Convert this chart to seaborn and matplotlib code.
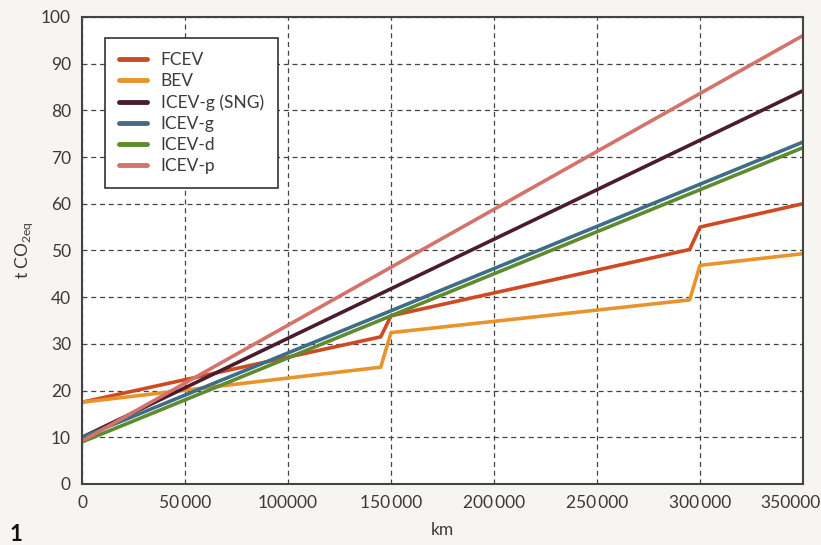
import pandas as pd
import numpy as np
import matplotlib.pyplot as plt
import seaborn as sns
from matplotlib.lines import Line2D
from matplotlib.transforms import offset_copy

# distance (km) and cumulative emissions (t CO2eq)
fcev_km = [0, 145000, 150000, 295000, 300000, 350000]
fcev_t = [17.5, 31.5, 36.0, 50.2, 55.0, 60.0]
bev_km = [0, 145000, 150000, 295000, 300000, 350000]
bev_t = [17.5, 25.0, 32.4, 39.4, 46.8, 49.3]
line_km = [0, 350000]
icev_g_sng_t = [10.0, 84.2]
icev_g_t = [10.0, 73.2]
icev_d_t = [9.0, 72.0]
icev_p_t = [9.2, 96.0]

names = ["FCEV", "BEV", "ICEV-g (SNG)", "ICEV-g", "ICEV-d", "ICEV-p"]
colors = ["#cf4a22", "#e8942c", "#4b1c2e", "#3f6d86", "#5e8a30", "#d4736a"]

x_ticks = [0, 50000, 100000, 150000, 200000, 250000, 300000, 350000]
x_tick_labels = ["0", "50\u2009000", "100000", "150\u2009000", "200\u2009000",
                 "250\u2009000", "300\u2009000", "350000"]
y_ticks = [0, 10, 20, 30, 40, 50, 60, 70, 80, 90, 100]

frames = [
    pd.DataFrame({"km": fcev_km, "t": fcev_t, "vehicle": "FCEV"}),
    pd.DataFrame({"km": bev_km, "t": bev_t, "vehicle": "BEV"}),
    pd.DataFrame({"km": line_km, "t": icev_g_sng_t, "vehicle": "ICEV-g (SNG)"}),
    pd.DataFrame({"km": line_km, "t": icev_g_t, "vehicle": "ICEV-g"}),
    pd.DataFrame({"km": line_km, "t": icev_d_t, "vehicle": "ICEV-d"}),
    pd.DataFrame({"km": line_km, "t": icev_p_t, "vehicle": "ICEV-p"}),
]
df = pd.concat(frames, ignore_index=True)

sns.set_style("white")
plt.rcParams["font.family"] = ["Lato", "DejaVu Sans"]

fig = plt.figure(figsize=(8.21, 5.45), dpi=100, facecolor="#f6f5f1")
ax = fig.add_axes([0.1, 0.112, 0.878, 0.857])
ax.set_facecolor("white")

sns.lineplot(data=df, x="km", y="t", hue="vehicle", hue_order=names,
             palette=colors, linewidth=2.6, sort=False, estimator=None,
             legend=False, ax=ax)

ax.set_xlim(0, 350000)
ax.set_ylim(0, 100)
ax.set_xticks(x_ticks)
ax.set_xticklabels(x_tick_labels)
ax.set_yticks(y_ticks)
ax.tick_params(length=0, labelsize=12.5, labelcolor="#3a3a3a", pad=8)
ax.grid(True, linestyle=(0, (4, 3)), color="#444444", linewidth=0.9)
for s in ax.spines.values():
    s.set_color("#444444")
    s.set_linewidth(1.5)

# last tick label sits a little left of its tick so it stays on the page
last = ax.get_xticklabels()[-1]
last.set_transform(offset_copy(last.get_transform(), fig=fig, x=-13, y=0, units="dots"))

ax.set_xlabel("km", fontsize=12.5, color="#3a3a3a", labelpad=8)
ax.set_ylabel(r"t CO$_{\mathregular{2eq}}$", fontsize=12.5, color="#3a3a3a")

handles = [Line2D([], [], color=c, linewidth=3.5) for c in colors]
leg = ax.legend(handles, names, loc="upper left", bbox_to_anchor=(0.032, 0.955),
                fontsize=12.5, frameon=True, fancybox=False, framealpha=1,
                handlelength=1.6, handletextpad=0.8, borderpad=0.8,
                labelspacing=0.3, borderaxespad=0)
leg.get_frame().set_edgecolor("#333333")
leg.get_frame().set_linewidth(1.2)
for t in leg.get_texts():
    t.set_color("#3a3a3a")

fig.text(0.012, 0.008, "1", fontsize=16, fontweight="bold", color="#111111")

fig.savefig("out.png", dpi=100, facecolor=fig.get_facecolor())
